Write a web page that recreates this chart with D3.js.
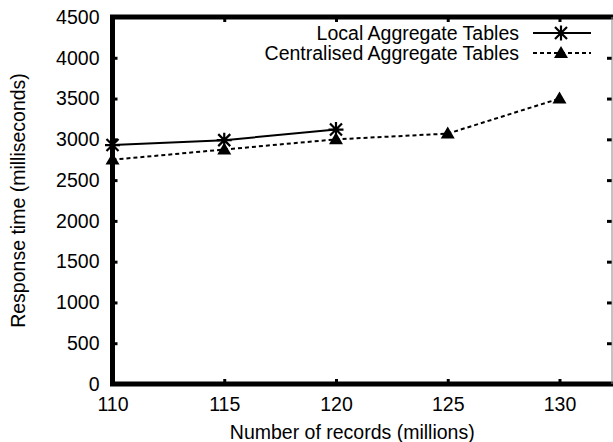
<!DOCTYPE html>
<html>
<head>
<meta charset="utf-8">
<script src="https://cdn.jsdelivr.net/npm/d3@7"></script>
<style>
  body { margin: 0; background: #fff; }
  text { font-family: "Liberation Sans", Arial, sans-serif; fill: #000; }
</style>
</head>
<body>
<script>
let width = 613
let height = 442

// data
const records = [110, 115, 120, 125, 130]
const localTimes = [2930, 2990, 3120]
const centralTimes = [2750, 2875, 3000, 3070, 3500]
const seriesNames = ['Local Aggregate Tables', 'Centralised Aggregate Tables']
const xTicks = [110, 115, 120, 125, 130]
const yTicks = [0, 500, 1000, 1500, 2000, 2500, 3000, 3500, 4000, 4500]

const plotL = 112.5, plotR = 612, plotT = 17, plotB = 384

let svg = d3.select('body')
  .append('svg')
  .attr('width', width)
  .attr('height', height)

let x = d3.scaleLinear().domain([110, 132.35]).range([plotL, plotR])
let y = d3.scaleLinear().domain([0, 4500]).range([plotB, plotT])

const fs = '19.5px'

// axes (ticks point inwards, like gnuplot)
let gx = svg.append('g')
  .attr('transform', `translate(0,${plotB})`)
  .call(d3.axisBottom(x).tickValues(xTicks).tickSize(-5).tickPadding(13).tickFormat(d3.format('d')))
let gy = svg.append('g')
  .attr('transform', `translate(${plotL},0)`)
  .call(d3.axisLeft(y).tickValues(yTicks).tickSize(-5).tickPadding(13).tickFormat(d3.format('d')))
let gx2 = svg.append('g')
  .attr('transform', `translate(0,${plotT})`)
  .call(d3.axisTop(x).tickValues(xTicks).tickSize(-5).tickFormat(''))
let gy2 = svg.append('g')
  .attr('transform', `translate(${plotR},0)`)
  .call(d3.axisRight(y).tickValues(yTicks).tickSize(-5).tickFormat(''))

;[gx, gy, gx2, gy2].forEach(g => {
  g.select('.domain').remove()
  g.selectAll('line').attr('stroke', '#000').attr('stroke-width', 3)
  g.selectAll('text').style('font-size', fs).attr('fill', '#000')
})
// hide tick marks sitting on the frame corners
gx.selectAll('.tick').filter(d => d === 110).select('line').remove()
gy.selectAll('.tick').filter(d => d === 0 || d === 4500).select('line').remove()

// frame
svg.append('path')
  .attr('d', `M${plotR + 4},${plotT}H${plotL}V${plotB}H${plotR + 4}`)
  .attr('fill', 'none')
  .attr('stroke', '#000')
  .attr('stroke-width', 5)
svg.append('line')
  .attr('x1', plotR).attr('x2', plotR)
  .attr('y1', plotT).attr('y2', plotB)
  .attr('stroke', '#888')
  .attr('stroke-width', 1)

// axis titles
svg.append('text')
  .attr('x', (plotL + plotR) / 2 - 10)
  .attr('y', 439)
  .attr('text-anchor', 'middle')
  .style('font-size', fs)
  .text('Number of records (millions)')
svg.append('text')
  .attr('transform', `translate(25,${(plotT + plotB) / 2}) rotate(-90)`)
  .attr('text-anchor', 'middle')
  .style('font-size', fs)
  .text('Response time (milliseconds)')

let line = d3.line()
  .x((d, i) => x(records[i]))
  .y(d => y(d))

svg.append('path')
  .datum(localTimes)
  .attr('d', line)
  .attr('fill', 'none')
  .attr('stroke', '#000')
  .attr('stroke-width', 2)

svg.append('path')
  .datum(centralTimes)
  .attr('d', line)
  .attr('fill', 'none')
  .attr('stroke', '#000')
  .attr('stroke-width', 2)
  .attr('stroke-dasharray', '4,3')

function star (g, cx, cy) {
  const r = 7.5
  g.append('path')
    .attr('d', `M${cx - r},${cy}H${cx + r}M${cx},${cy - r}V${cy + r}` +
      `M${cx - r * 0.8},${cy - r * 0.8}L${cx + r * 0.8},${cy + r * 0.8}` +
      `M${cx - r * 0.8},${cy + r * 0.8}L${cx + r * 0.8},${cy - r * 0.8}`)
    .attr('stroke', '#000')
    .attr('stroke-width', 2.2)
    .attr('fill', 'none')
}

function triangle (g, cx, cy) {
  const r = 7
  g.append('path')
    .attr('d', `M${cx},${cy - r}L${cx + r},${cy + r * 0.7}L${cx - r},${cy + r * 0.7}Z`)
    .attr('fill', '#000')
}

let marks = svg.append('g')
localTimes.forEach((v, i) => star(marks, x(records[i]), y(v)))
centralTimes.forEach((v, i) => triangle(marks, x(records[i]), y(v)))

// legend
const legendY = [33, 53]
let legend = svg.append('g')
seriesNames.forEach((name, i) => {
  legend.append('text')
    .attr('x', 519)
    .attr('y', legendY[i])
    .attr('dy', '0.35em')
    .attr('text-anchor', 'end')
    .style('font-size', fs)
    .text(name)
  legend.append('line')
    .attr('x1', 533).attr('x2', 591)
    .attr('y1', legendY[i]).attr('y2', legendY[i])
    .attr('stroke', '#000')
    .attr('stroke-width', 2)
    .attr('stroke-dasharray', i === 1 ? '4,3' : null)
  if (i === 0) star(legend, 561, legendY[i])
  else triangle(legend, 561, legendY[i])
})
</script>
</body>
</html>
